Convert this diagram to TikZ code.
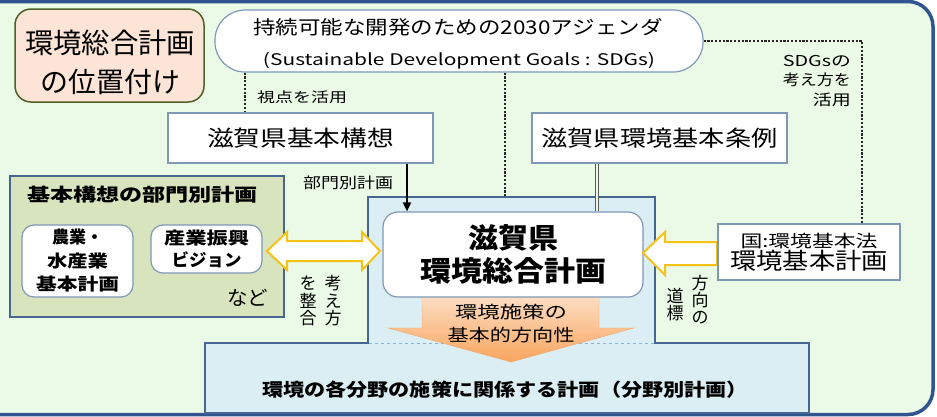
\documentclass[tikz,border=0pt]{standalone}
\usepackage{fontspec}
\setmainfont{Noto Sans CJK JP}
\usepackage{graphicx}
\usetikzlibrary{arrows.meta}
\definecolor{frameblue}{HTML}{2F5490}
\definecolor{bgreen}{HTML}{EBFAE6}
\definecolor{peach}{HTML}{FCE4D6}
\definecolor{olivebd}{HTML}{4F6228}
\definecolor{boxbd}{HTML}{7F98B6}
\definecolor{regfill}{HTML}{DBEEF4}
\definecolor{regbd}{HTML}{44668F}
\definecolor{olivefill}{HTML}{D7E4BD}
\definecolor{yel}{HTML}{F5C218}
\definecolor{orL}{HTML}{FDE3CC}
\definecolor{orD}{HTML}{F8A55E}
\definecolor{orE}{HTML}{F4A868}
\definecolor{dashc}{HTML}{8DB3E2}
\definecolor{dblc}{HTML}{5A5A5A}
\newcommand\fw[2]{\resizebox{#1pt}{\height}{#2}}
\newcommand\fs[2]{\fontsize{#1}{#2}\selectfont}
\tikzset{
 wbox/.style={draw=boxbd, fill=white, line width=1.2, inner sep=0, align=center},
 rbox/.style={wbox, rounded corners=12},
 txt/.style={inner sep=0, align=center},
 dots/.style={line width=2.8, dash pattern=on 2.2pt off 1.6pt, draw=black!85},
 yarrow/.style={draw=yel, fill=white, line width=2, line join=miter},
}
\begin{document}
\begin{tikzpicture}[x=1pt,y=-1pt]
\useasboundingbox (0,0) rectangle (937,416);
\clip (0,0) rectangle (937,416);
\fill[white] (0,0) rectangle (937,416);
\draw[draw=frameblue, fill=bgreen, line width=3.5, rounded corners=25] (-40,1.5) rectangle (933,414.5);

% title
\node[draw=olivebd, fill=peach, line width=1.5, rounded corners=16, minimum width=189, minimum height=93, inner sep=0] (titlebox) at (109.5,55.5) {};
\node[txt, font=\fs{28}{38.5}] (title) at (110,62.5) {\fw{170}{環境総合計画}\\\fw{140}{の位置付け}};

% SDGs
\node[wbox, rounded corners=30, minimum width=488, minimum height=62] (sdgs) at (459,41) {};
\node[txt, font=\fs{19}{22}] (sdgs1) at (458,27) {\fw{409}{持続可能な開発のための2030アジェンダ}};
\node[txt, font=\fs{16}{19}] (sdgs2) at (459,61) {\fw{392}{(Sustainable Development Goals : SDGs)}};

% region
\draw[fill=regfill, draw=regbd, line width=1.8] (368,197) -- (655,197) -- (655,343) -- (809,343) -- (809,413) -- (205,413) -- (205,343) -- (368,343) -- cycle;
\draw[draw=dashc, dashed, line width=0.8] (369,343) -- (654,343);
\coordinate (regn) at (505,197);

% orange arrow
\shadedraw[top color=orL, bottom color=orD, draw=orE, line width=0.4] (422,290) -- (599,290) -- (599,328) -- (634,328) -- (511,362) -- (388,328) -- (422,328) -- cycle;
\node[txt, font=\fs{17}{23}] (orient) at (511,323.5) {\fw{112}{環境施策の}\\\fw{127}{基本的方向性}};

% main node
\node[wbox, rounded corners=15, minimum width=260, minimum height=85, font=\bfseries\fs{28}{33}] (main) at (513,254.5) {\fw{90}{滋賀県}\\\fw{186}{環境総合計画}};

% bottom text
\node[txt, font=\bfseries\fs{18}{22}] (bottom) at (505,390) {\fw{486}{環境の各分野の施策に関係する計画（分野別計画）}};

% olive box
\node[draw=regbd, fill=olivefill, line width=1.8, minimum width=274, minimum height=141, inner sep=0] (bukai) at (147,246.5) {};
\node[txt, font=\bfseries\fs{18}{22}] (bukaititle) at (142.5,195) {\fw{231}{基本構想の部門別計画}};
\node[rbox, minimum width=111, minimum height=72, font=\bfseries\fs{17}{23.5}] (nogyo) at (77.5,261) {農業・\\\fw{61}{水産業}\\\fw{83}{基本計画}};
\node[rbox, minimum width=111, minimum height=48, font=\bfseries\fs{17}{22}] (sangyo) at (206.5,249) {\fw{85}{産業振興}\\\fw{70}{ビジョン}};
\node[txt, font=\fs{20}{24}] (nado) at (247.5,298) {\fw{41}{など}};

% yellow arrows
\draw[yarrow] (267,251) -- (287,232) -- (287,241) -- (362,241) -- (362,232) -- (380,251) -- (362,270) -- (362,261) -- (287,261) -- (287,270) -- cycle;
\draw[yarrow] (643,253) -- (665,232) -- (665,242) -- (717,242) -- (717,265) -- (665,265) -- (665,275) -- cycle;

% upper boxes
\node[wbox, minimum width=265, minimum height=50, font=\fs{22}{26}] (kihon) at (300.5,138) {\fw{187}{滋賀県基本構想}};
\node[wbox, minimum width=255, minimum height=50, font=\fs{22}{26}] (jorei) at (659.5,138) {\fw{236}{滋賀県環境基本条例}};
\node[wbox, minimum width=182, minimum height=56] (kuni) at (809,252) {\fs{17}{27}\fw{137}{国:環境基本法}\\\fs{23}{27}\fw{158}{環境基本計画}};

% dotted lines
\draw[dots] ([xshift=-214]sdgs.south) -- ([xshift=-214]sdgs.south |- kihon.north);
\draw[dots] ([xshift=46]sdgs.south) -- (regn);
\draw[dots] (sdgs.east) -| ([xshift=53]kuni.north);

% connectors to main
\draw[-{Triangle[length=9,width=8]}, line width=1.8] ([xshift=106.5]kihon.south) -- ([xshift=106.5]kihon.south |- main.north);
\draw[draw=dblc, double=bgreen, double distance=2.6, line width=0.9] ([xshift=-62.5]jorei.south) -- ([xshift=-62.5]jorei.south |- main.north);

% vertical texts
\node[txt, font=\fs{17}{17.5}] (kangae) at (333,301) {考\\え\\方};
\node[txt, font=\fs{17}{17.5}] (seigo) at (308,301) {を\\整\\合};
\node[txt, font=\fs{17}{17}] (hoko) at (700,300) {方\\向\\の};
\node[txt, font=\fs{17}{17}] (dohyo) at (675,305) {道\\標};

% labels
\node[txt, font=\fs{14}{17}] (shiten) at (302,97) {\fw{90}{視点を活用}};
\node[txt, font=\fs{15}{18}] (bumon) at (348,183) {\fw{90}{部門別計画}};
\node[txt, font=\fs{15}{19.5}, align=right, anchor=east] (sdgskan) at (851,81) {\fw{68}{SDGsの}\\\fw{68}{考え方を}\\\fw{38}{活用}};
\end{tikzpicture}
\end{document}
